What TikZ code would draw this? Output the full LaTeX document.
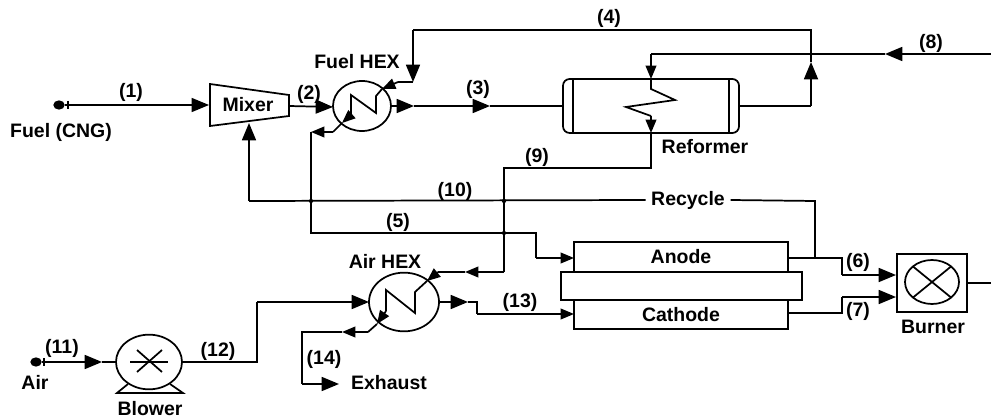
\documentclass[tikz,border=0pt]{standalone}
\usepackage{fontspec}
\setmainfont{Liberation Sans}
\usetikzlibrary{arrows.meta,shapes.geometric}
\tikzset{
    every node/.style={inner sep=0mm, outer sep=0mm, font=\bfseries\fontsize{14.6}{16}\selectfont},
    unit/.style={draw, line width=1.3pt, fill=white},
    hex/.style={unit, shape=ellipse},
    pipe/.style={line width=1.3pt},
    flow/.style={pipe, -{Triangle[length=13pt, width=10.5pt]}},
    sflow/.style={pipe, -{Triangle[length=10pt, width=8pt]}},
    joint/.style={circle, fill=black, minimum size=3.2pt}
}

\begin{document}
\begin{tikzpicture}[x=0.75pt, y=-0.75pt]
        \useasboundingbox (0,0) rectangle (991,420);
        % equipment
        \node (fuel) [ellipse, fill=black, minimum width=8.5pt, minimum height=7pt] at (59,105) {};
        \node (air) [ellipse, fill=black, minimum width=8.5pt, minimum height=7pt] at (36,362) {};
        \node (fuelhex) [hex, minimum width=43.5pt, minimum height=37.5pt] at (362,106) {};
        \node (airhex) [hex, minimum width=52.5pt, minimum height=44pt] at (404,302) {};
        \node (blower) [hex, minimum width=49.5pt, minimum height=41pt] at (149,362) {};
        \node (reformer) [unit, rounded corners=5pt, minimum width=132pt, minimum height=40.5pt] at (651,106) {};
        \node (anode) [unit, text depth=1.5pt, minimum width=160.5pt, minimum height=22.5pt] at (681,257) {Anode};
        \node (cathode) [unit, minimum width=160.5pt, minimum height=21.75pt] at (681,314.5) {Cathode};
        \node (membrane) [unit, minimum width=180.75pt, minimum height=21pt] at (681.5,286) {};
        \node (burner) [unit, minimum width=52.5pt, minimum height=43.5pt] at (932,283) {};
        \node (flame) [hex, minimum width=40.5pt, minimum height=33pt] at (932,282) {};
        \draw [unit] (210,84) -- (289,95) -- (289,116) -- (210,126) -- cycle;
        \node (mixer) at (248,105) {Mixer};
        % labels
        \node (l1) at (131,92) {(1)};
        \node (l2) at (309,94) {(2)};
        \node (l3) at (478,89) {(3)};
        \node (l4) at (609,18) {(4)};
        \node (l5) at (398,222) {(5)};
        \node (l6) at (858,262) {(6)};
        \node (l7) at (858,311) {(7)};
        \node (l8) at (931,43) {(8)};
        \node (l9) at (537,157) {(9)};
        \node (l10) at (455,191) {(10)};
        \node (l11) at (62,348) {(11)};
        \node (l12) at (218,351) {(12)};
        \node (l13) at (520,302) {(13)};
        \node (l14) at (324,359) {(14)};
        \node (lfuel) at (61,132) {Fuel (CNG)};
        \node (lfuelhex) at (357,62) {Fuel HEX};
        \node (lairhex) at (385,261) {Air HEX};
        \node (lreformer) at (705,147) {Reformer};
        \node (lair) at (35,382) {Air};
        \node (lblower) at (150,409) {Blower};
        \node (lexhaust) at (389,383) {Exhaust};
        \node (lburner) at (933,327) {Burner};
        \node (recycle) [minimum width=63.75pt] at (688,200) {Recycle};
        % bends
        \coordinate (m1) at (209,105);
        \coordinate (m2) at (289,106);
        \coordinate (m3) at (249,123);
        \coordinate (f1) at (333,107);
        \coordinate (f2) at (391,106);
        \coordinate (f3) at (414,106);
        \coordinate (f4) at (490,106);
        \coordinate (f5) at (563,106);
        \coordinate (r1) at (811,106);
        \coordinate (r2) at (811,62);
        \coordinate (r3) at (811,30);
        \coordinate (r4) at (413,30);
        \coordinate (r5) at (413,82);
        \coordinate (h1) at (398,82);
        \coordinate (h2) at (382,89);
        \coordinate (h3) at (376,96);
        \coordinate (h4) at (376,113);
        \coordinate (h5) at (351,95);
        \coordinate (h6) at (351,115);
        \coordinate (h7) at (342,123);
        \coordinate (h8) at (333,132);
        \coordinate (h9) at (311,132);
        \coordinate (a1) at (311,233);
        \coordinate (a2) at (536,233);
        \coordinate (a3) at (536,258);
        \coordinate (a4) at (574,258);
        \coordinate (s1) at (991,54);
        \coordinate (s2) at (885,54);
        \coordinate (s3) at (651,54);
        \coordinate (s4) at (651,79);
        \coordinate (s5) at (651,89);
        \coordinate (s6) at (675,100);
        \coordinate (s7) at (626,107);
        \coordinate (s8) at (651,116);
        \coordinate (s9) at (651,133);
        \coordinate (b1) at (651,168);
        \coordinate (b2) at (504,168);
        \coordinate (b3) at (504,272);
        \coordinate (b4) at (465,272);
        \coordinate (b5) at (438,272);
        \coordinate (b5a) at (427,281);
        \coordinate (b6) at (415,292);
        \coordinate (b7) at (415,313);
        \coordinate (b8) at (386,290);
        \coordinate (b9) at (386,311);
        \coordinate (b10) at (377,324);
        \coordinate (b11) at (368,332);
        \coordinate (b12) at (342,332);
        \coordinate (b13) at (302,332);
        \coordinate (b14) at (302,384);
        \coordinate (b15) at (339,384);
        \coordinate (c1) at (249,201);
        \coordinate (c2) at (815,201);
        \coordinate (c3) at (815,258);
        \coordinate (g1) at (257,362);
        \coordinate (g2) at (257,302);
        \coordinate (g3) at (369,302);
        \coordinate (g4) at (439,302);
        \coordinate (g5) at (468,302);
        \coordinate (g6) at (477,302);
        \coordinate (g7) at (477,314);
        \coordinate (g8) at (574,314);
        \coordinate (e1) at (788,258);
        \coordinate (e2) at (842,258);
        \coordinate (e3) at (842,275);
        \coordinate (e4) at (896,275);
        \coordinate (e5) at (788,313);
        \coordinate (e6) at (842,313);
        \coordinate (e7) at (842,297);
        \coordinate (e8) at (896,297);
        \coordinate (o1) at (967,283);
        \coordinate (o2) at (991,283);
        \coordinate (t1) at (68,105);
        \coordinate (t2) at (44,362);
        \coordinate (t3) at (102,362);
        % symbols inside the units
        \draw [pipe] (573,79) -- (573,133);
        \draw [pipe] (729,79) -- (729,133);
        \draw [pipe] (flame.north west) -- (flame.south east);
        \draw [pipe] (flame.north east) -- (flame.south west);
        \draw [pipe] (130,362) -- (168,362);
        \draw [pipe] (137,350) -- (162,372);
        \draw [pipe] (162,350) -- (137,372);
        \draw [pipe] (128,384) -- (117,393) -- (183,393) -- (170,384);
        % streams
        \draw [pipe] (68,101) -- (68,109);
        \draw [pipe, line width=1pt] (fuel) -- (t1);
        \draw [pipe, line width=1pt] (air) -- (t2);
        \draw [pipe] (44,358) -- (44,366);
        \draw [flow, line width=1pt] (t1) -- (m1);
        \draw [flow] (m2) -- (f1);
        \draw [flow] (f2) -- (f3);
        \draw [flow] (f3) -- (f4);
        \draw [pipe] (f4) -- (f5);
        \draw [pipe] (reformer.east) -- (r1);
        \draw [flow] (r1) -- (r2);
        \draw [pipe] (r2) -- (r3) -- (r4);
        \draw [flow] (r4) -- (r5);
        \draw [pipe] (r5) -- (h1);
        \draw [sflow] (h1) -- (h2);
        \draw [pipe] (h2) -- (h3) -- (h4) -- (h5) -- (h6);
        \draw [sflow] (h6) -- (h7);
        \draw [pipe] (h7) -- (h8);
        \draw [sflow] (h8) -- (h9);
        \draw [pipe] (h9) -- (a1) -- (a2) -- (a3);
        \draw [sflow] (a3) -- (a4);
        \draw [flow] (s1) -- (s2);
        \draw [pipe] (s2) -- (s3);
        \draw [sflow] (s3) -- (s4);
        \draw [pipe] (s4) -- (s5) -- (s6) -- (s7) -- (s8);
        \draw [sflow] (s8) -- (s9);
        \draw [pipe] (s9) -- (b1) -- (b2) -- (b3);
        \draw [sflow] (b3) -- (b4);
        \draw [pipe] (b4) -- (b5);
        \draw [sflow] (b5) -- (b5a);
        \draw [pipe] (b5a) -- (b6) -- (b7) -- (b8) -- (b9);
        \draw [sflow] (b9) -- (b10);
        \draw [pipe] (b10) -- (b11);
        \draw [sflow] (b11) -- (b12);
        \draw [pipe] (b12) -- (b13) -- (b14);
        \draw [flow] (b14) -- (b15);
        \draw [flow] (c1) -- (m3);
        \draw [pipe] (c1) -- (recycle.west);
        \draw [pipe] (recycle.east) -- (c2) -- (c3);
        \draw [flow] (t2) -- (t3);
        \draw [pipe] (t3) -- (blower.west);
        \draw [pipe] (blower.east) -- (g1) -- (g2);
        \draw [flow] (g2) -- (g3);
        \draw [flow] (g4) -- (g5);
        \draw [pipe] (g5) -- (g6) -- (g7);
        \draw [sflow] (g7) -- (g8);
        \draw [pipe] (e1) -- (e2) -- (e3);
        \draw [flow] (e3) -- (e4);
        \draw [pipe] (e5) -- (e6) -- (e7);
        \draw [flow] (e7) -- (e8);
        \draw [pipe] (o1) -- (o2);
        % crossings
        \node (j1) [joint] at (311,201) {};
        \node (j2) [joint] at (504,201) {};
        \node (j3) [joint] at (504,233) {};
\end{tikzpicture}
\end{document}
